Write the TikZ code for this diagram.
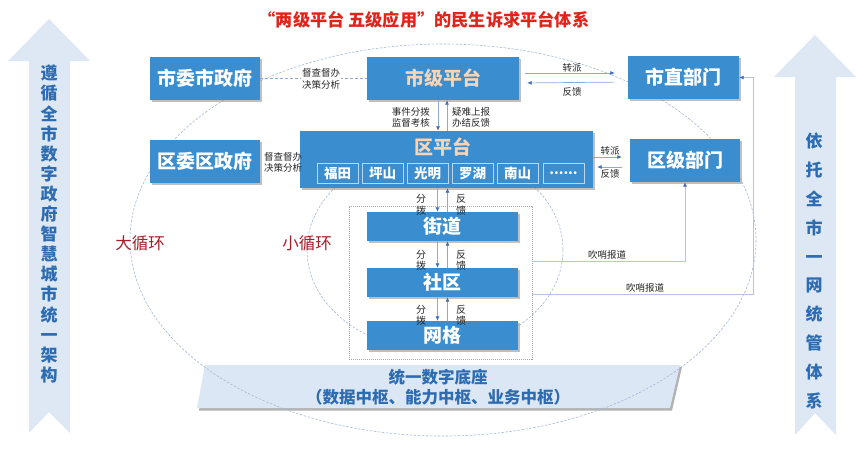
\documentclass[tikz,border=0pt]{standalone}
\usepackage{fontspec}
\setmainfont{Noto Sans CJK SC}
\usetikzlibrary{arrows.meta,shadows,calc}
\definecolor{boxblue}{HTML}{3A8ECF}
\definecolor{peach}{HTML}{F8D4B6}
\definecolor{lineblue}{HTML}{8EA9D3}
\definecolor{thinline}{HTML}{B3C5DF}
\definecolor{tipblue}{HTML}{3F6FC0}
\definecolor{arrowfill}{HTML}{DDE8F4}
\definecolor{bandfill}{HTML}{DCE7F5}
\definecolor{sidetext}{HTML}{2E6CB2}
\definecolor{titlered}{HTML}{E2231A}
\definecolor{loopred}{HTML}{A81F2A}
\definecolor{ellcol}{HTML}{A6B9D6}
\begin{document}
\begin{tikzpicture}[x=1pt,y=-1pt,
  bluebox/.style={fill=boxblue, text=white, font=\fontsize{19}{22}\selectfont\bfseries, inner sep=0pt,
    drop shadow={shadow xshift=2pt,shadow yshift=-2pt,fill=black!45,opacity=.55}},
  subbox/.style={fill=boxblue, draw=white!65!boxblue, line width=0.6pt, text=white,
    font=\fontsize{13.5}{15}\selectfont\bfseries, minimum width=41pt, minimum height=20pt, inner sep=0pt,
    drop shadow={shadow xshift=1pt,shadow yshift=-1pt,fill=black!45,opacity=.5}},
  lbl/.style={font=\fontsize{9.5}{11.7}\selectfont, text=black!85, inner sep=0pt, align=center},
  vlbl/.style={font=\fontsize{10}{11.5}\selectfont, text=black!85, inner sep=0pt, align=center},
  arr/.style={draw=lineblue, line width=0.7pt, -{Latex[length=4.5pt,width=4pt,color=tipblue]}},
  arrthin/.style={draw=thinline, line width=0.6pt, -{Latex[length=4.5pt,width=4pt,color=tipblue]}},
  ell/.style={draw=ellcol, line width=0.6pt, dash pattern=on 2.5pt off 1.5pt},
  sidefont/.style={text=sidetext, inner sep=0pt, align=center},
  looplbl/.style={text=loopred, font=\fontsize{16.5}{18}\selectfont, inner sep=0pt},
]
\useasboundingbox (0,0) rectangle (863,451);
\fill[white] (0,0) rectangle (863,451);

% side arrows
\fill[arrowfill] (49,19) -- (90,61) -- (70,61) -- (70,433) -- (49,412) -- (29,433) -- (29,61) -- (8,61) -- cycle;
\node[sidefont, font=\fontsize{17}{20.1}\selectfont\bfseries] (lefttext) at (49,224)
  {遵\\循\\全\\市\\数\\字\\政\\府\\智\\慧\\城\\市\\统\\一\\架\\构};
\fill[arrowfill] (815,35) -- (856,77) -- (836,77) -- (836,435) -- (815,413) -- (795,435) -- (795,77) -- (774,77) -- cycle;
\node[sidefont, font=\fontsize{17}{28.9}\selectfont\bfseries] (righttext) at (814,271)
  {依\\托\\全\\市\\一\\网\\统\\管\\体\\系};

% title
\node[font=\fontsize{17.2}{19}\selectfont\bfseries, text=titlered, inner sep=0pt] (title) at (424,20)
  {“两级平台\ 五级应用”的民生诉求平台体系};

% base band
\fill[black!30] (207,367) -- (682,367) -- (672,410.5) -- (199,410.5) -- cycle;
\fill[bandfill] (205,365) -- (680,365) -- (670,408) -- (197,408) -- cycle;
\node[sidefont, font=\fontsize{16.5}{20}\selectfont\bfseries] (base) at (438,387)
  {统一数字底座\\（数据中枢、能力中枢、业务中枢）};

% loops
\draw[ell] (443,240) ellipse [x radius=313, y radius=196];
\draw[ell] (435,250) ellipse [x radius=128, y radius=100];
\node[looplbl] (big) at (140,243) {大循环};
\node[looplbl] (small) at (307,243) {小循环};

% frame
\node[draw=black!35, dash pattern=on 1.2pt off 0.8pt, line width=0.5pt, minimum width=183pt, minimum height=153pt, inner sep=0pt] (frame) at (440.5,282.5) {};

% boxes
\node[bluebox, minimum width=110pt, minimum height=43pt] (swzf) at (205,78.5) {市委市政府};
\node[bluebox, minimum width=152pt, minimum height=43pt, text=peach] (sjpt) at (443,78.5) {市级平台};
\node[bluebox, minimum width=111pt, minimum height=43pt] (szbm) at (683.5,77.5) {市直部门};
\node[bluebox, minimum width=110pt, minimum height=43pt] (qwzf) at (205,161.5) {区委区政府};
\node[bluebox, minimum width=293pt, minimum height=57pt] (qpt) at (446.5,159.5) {};
\node[text=peach, font=\fontsize{19}{22}\selectfont\bfseries, inner sep=0pt] (qptt) at (443,147.5) {区平台};
\node[subbox] (ft) at (337.5,173) {福田};
\node[subbox] (ps) at (382.5,173) {坪山};
\node[subbox] (gm) at (427.5,173) {光明};
\node[subbox] (lh) at (472.5,173) {罗湖};
\node[subbox] (ns) at (517.5,173) {南山};
\node[subbox] (dots) at (563.5,173) {......};
\node[bluebox, minimum width=110pt, minimum height=43pt] (qjbm) at (685,160.5) {区级部门};
\node[bluebox, minimum width=151pt, minimum height=29pt] (jd) at (442.5,226.5) {街道};
\node[bluebox, minimum width=151pt, minimum height=29pt] (sq) at (442.5,282.5) {社区};
\node[bluebox, minimum width=151pt, minimum height=29pt] (wg) at (442.5,335.5) {网格};

% city gov <-> city platform
\draw[draw=lineblue, line width=0.7pt, dash pattern=on 3pt off 2pt] (swzf) -- (sjpt);
\node[lbl, fill=white, inner sep=1pt] (l1) at (321,79) {督查督办\\决策分析};
\node[lbl] (l2) at (283,162.5) {督查督办\\决策分析};

% city platform <-> city departments
\draw[arr, shorten <=6pt, shorten >=13pt] ([yshift=5.5pt]sjpt.east) -- ([yshift=4.5pt]szbm.west);
\draw[arr, shorten <=13pt, shorten >=8pt] ([yshift=-4.5pt]szbm.west) -- ([yshift=-4.5pt]sjpt.east);
\node[lbl] (zp1) at (572,68) {转派};
\node[lbl] (fk1) at (572,92) {反馈};

% district platform <-> district departments
\draw[arr, shorten >=8pt] ([yshift=2.5pt]qpt.east) -- ([yshift=3.5pt]qjbm.west);
\draw[arr, shorten <=8pt, shorten >=4pt] ([yshift=-6.5pt]qjbm.west) -- ([yshift=-7.5pt]qpt.east);
\node[lbl] (zp2) at (610,151) {转派};
\node[lbl] (fk2) at (610,174) {反馈};

% city platform <-> district platform
\draw[arr] ($(sjpt.south)+(-5,0)$) -- ($(sjpt.south |- qpt.north)+(-5,0)$);
\draw[arr] ($(sjpt.south |- qpt.north)+(4,0)$) -- ($(sjpt.south)+(4,0)$);
\node[lbl, anchor=east] (l3) at (430,117.5) {事件分拨\\监督考核};
\node[lbl, anchor=west] (l4) at (452,117.5) {疑难上报\\办结反馈};

% district platform <-> street
\draw[arr] ($(jd.north |- qpt.south)+(-5,0)$) -- ($(jd.north)+(-5,0)$);
\draw[arr] ($(jd.north)+(5,0)$) -- ($(jd.north |- qpt.south)+(5,0)$);
\node[vlbl] (fb1) at (421,205) {分\\拨};
\node[vlbl] (fk3) at (461,205) {反\\馈};

% street <-> community
\draw[arr] ($(jd.south)+(-5,0)$) -- ($(sq.north)+(-5,0)$);
\draw[arr] ($(sq.north)+(5,0)$) -- ($(jd.south)+(5,0)$);
\node[vlbl] (fb2) at (421,260.5) {分\\拨};
\node[vlbl] (fk4) at (461,260.5) {反\\馈};

% community <-> grid
\draw[arr] ($(sq.south)+(-5,0)$) -- ($(wg.north)+(-5,0)$);
\draw[arr] ($(wg.north)+(5,0)$) -- ($(sq.south)+(5,0)$);
\node[vlbl] (fb3) at (421,315.5) {分\\拨};
\node[vlbl] (fk5) at (461,315.5) {反\\馈};

% whistle lines
\coordinate (h1) at (0,261);
\draw[arrthin] (frame.east |- h1) -| (qjbm.south);
\node[lbl] (cs1) at (607,255) {吹哨报道};
\coordinate (r2) at (753,294);
\draw[arrthin] (frame.east |- r2) -- (r2) |- (szbm.east);
\node[lbl] (cs2) at (645,288) {吹哨报道};
\end{tikzpicture}
\end{document}
